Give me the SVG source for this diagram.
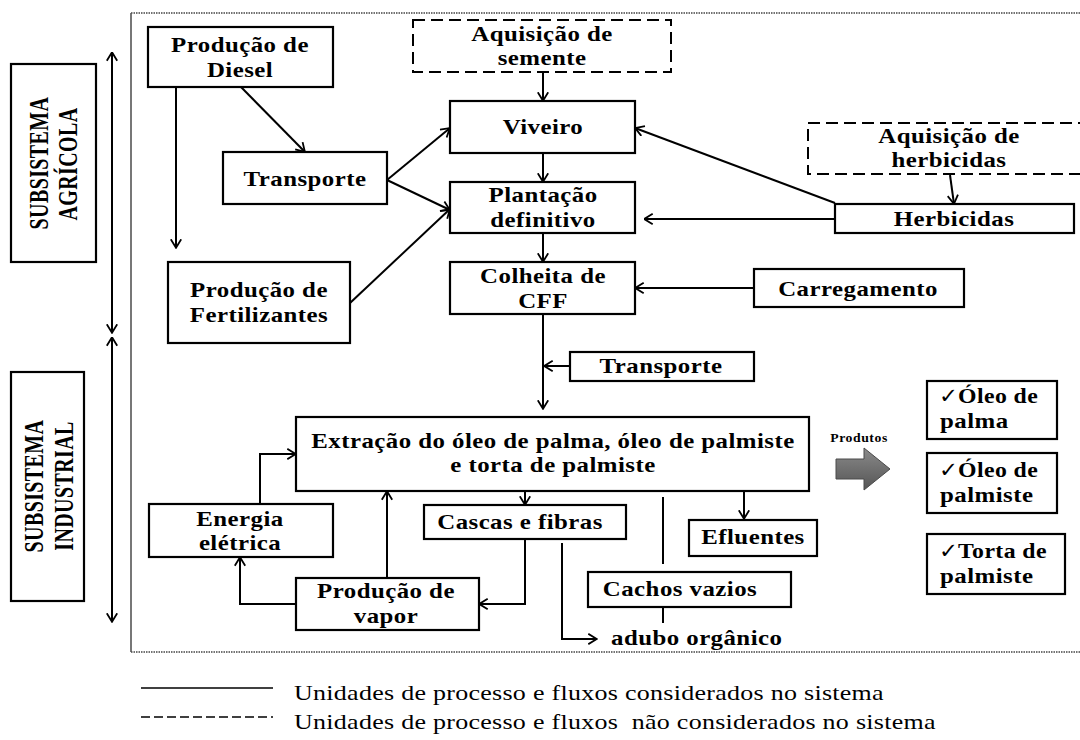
<svg xmlns="http://www.w3.org/2000/svg" width="1080" height="740" viewBox="0 0 1080 740">
<defs>
<marker id="a" viewBox="0 0 10 12" refX="9.5" refY="6" markerWidth="10" markerHeight="12" markerUnits="userSpaceOnUse" orient="auto-start-reverse">
<path d="M0.8,0.8 L9.3,6 L0.8,11.2" fill="none" stroke="#000" stroke-width="1.8"/>
</marker>
<linearGradient id="g" x1="0" y1="0" x2="0" y2="1">
<stop offset="0" stop-color="#8a8a8a"/>
<stop offset="1" stop-color="#555"/>
</linearGradient>
</defs>
<style>
.b{fill:#fff;stroke:#000;stroke-width:2.2}
.d{fill:#fff;stroke:#000;stroke-width:2;stroke-dasharray:12 6}
.t{font-family:"Liberation Serif","Times New Roman",serif;font-weight:bold;font-size:22px;letter-spacing:0.4px;fill:#000;text-anchor:middle}
.l{text-anchor:start}
.r{font-family:"Liberation Serif","Times New Roman",serif;font-weight:bold;font-size:20px;fill:#000;text-anchor:middle;letter-spacing:0.4px}
.c{fill:none;stroke:#000;stroke-width:2}
.ca{fill:none;stroke:#000;stroke-width:2;marker-end:url(#a)}
.lg{font-family:"Liberation Serif","Times New Roman",serif;font-size:22px;letter-spacing:0.25px;fill:#000;white-space:pre}
.ck{font-family:"DejaVu Sans",sans-serif;font-size:21px;font-weight:bold;letter-spacing:0}
</style>
<rect width="1080" height="740" fill="#fff"/>

<g id="frame">
<path d="M131,13 H1080 M131,652 H1080" fill="none" stroke="#444" stroke-width="1.6" stroke-dasharray="1.5 1"/>
<path d="M131,13 V652" fill="none" stroke="#555" stroke-width="1.6"/>
</g>

<g id="subsistema-agricola">
<rect class="b" x="11" y="64" width="85" height="198"/>
<text class="r" transform="translate(48,163) scale(1.4,1) rotate(-90)">SUBSISTEMA</text>
<text class="r" transform="translate(77,164) scale(1.35,1) rotate(-90)">AGRÍCOLA</text>
</g>
<g id="subsistema-industrial">
<rect class="b" x="11" y="372" width="73" height="229"/>
<text class="r" transform="translate(43,486) scale(1.4,1) rotate(-90)">SUBSISTEMA</text>
<text class="r" transform="translate(73,486) scale(1.35,1) rotate(-90)">INDUSTRIAL</text>
</g>

<g id="n-diesel"><rect class="b" x="148" y="27" width="185" height="60"/>
<text class="t" transform="translate(240,52) scale(1.13,1)">Produção de</text><text class="t" transform="translate(240,77) scale(1.13,1)">Diesel</text></g>
<g id="n-semente"><rect class="d" x="413" y="20" width="258" height="52"/>
<text class="t" transform="translate(542,41) scale(1.13,1)">Aquisição de</text><text class="t" transform="translate(542,65) scale(1.13,1)">semente</text></g>
<g id="n-viveiro"><rect class="b" x="450" y="101" width="185" height="52"/>
<text class="t" transform="translate(543,134) scale(1.13,1)">Viveiro</text></g>
<g id="n-transporte1"><rect class="b" x="223" y="152" width="164" height="52"/>
<text class="t" transform="translate(305,186) scale(1.13,1)">Transporte</text></g>
<g id="n-plantacao"><rect class="b" x="450" y="182" width="185" height="51"/>
<text class="t" transform="translate(543,202) scale(1.13,1)">Plantação</text><text class="t" transform="translate(543,227) scale(1.13,1)">definitivo</text></g>
<g id="n-colheita"><rect class="b" x="450" y="262" width="185" height="52"/>
<text class="t" transform="translate(543,283) scale(1.13,1)">Colheita de</text><text class="t" transform="translate(543,308) scale(1.13,1)">CFF</text></g>
<g id="n-fertilizantes"><rect class="b" x="168" y="262" width="182" height="81"/>
<text class="t" transform="translate(259,297) scale(1.13,1)">Produção de</text><text class="t" transform="translate(259,322) scale(1.13,1)">Fertilizantes</text></g>
<g id="n-aq-herbicidas"><rect class="d" x="808" y="123" width="300" height="51"/>
<text class="t" transform="translate(949,143) scale(1.13,1)">Aquisição de</text><text class="t" transform="translate(949,167) scale(1.13,1)">herbicidas</text></g>
<g id="n-herbicidas"><rect class="b" x="835" y="204" width="239" height="29"/>
<text class="t" transform="translate(954,226) scale(1.13,1)">Herbicidas</text></g>
<g id="n-carregamento"><rect class="b" x="754" y="269" width="210" height="38"/>
<text class="t" transform="translate(858,296) scale(1.13,1)">Carregamento</text></g>
<g id="n-transporte2"><rect class="b" x="570" y="352" width="184" height="29"/>
<text class="t" transform="translate(661,373) scale(1.13,1)">Transporte</text></g>
<g id="n-extracao"><rect class="b" x="296" y="417" width="513" height="74"/>
<text class="t" transform="translate(553,448) scale(1.13,1)">Extração do óleo de palma, óleo de palmiste</text>
<text class="t" transform="translate(553,472) scale(1.13,1)">e torta de palmiste</text></g>
<g id="n-energia"><rect class="b" x="149" y="504" width="184" height="53"/>
<text class="t" transform="translate(240,526) scale(1.13,1)">Energia</text><text class="t" transform="translate(240,550) scale(1.13,1)">elétrica</text></g>
<g id="n-cascas"><rect class="b" x="424" y="505" width="202" height="34"/>
<text class="t" transform="translate(520,529) scale(1.13,1)">Cascas e fibras</text></g>
<g id="n-vapor"><rect class="b" x="296" y="578" width="183" height="52"/>
<text class="t" transform="translate(386,598) scale(1.13,1)">Produção de</text><text class="t" transform="translate(386,623) scale(1.13,1)">vapor</text></g>
<g id="n-efluentes"><rect class="b" x="689" y="520" width="128" height="36"/>
<text class="t" transform="translate(753,544) scale(1.13,1)">Efluentes</text></g>
<g id="n-cachos"><rect class="b" x="588" y="572" width="203" height="35"/>
<text class="t" transform="translate(680,596) scale(1.13,1)">Cachos vazios</text></g>
<g id="n-adubo"><text class="t l" transform="translate(611,645) scale(1.13,1)">adubo orgânico</text></g>

<g id="produtos">
<text transform="translate(859,442) scale(1.1,1)" font-family="Liberation Serif, serif" font-weight="bold" font-size="12.5" letter-spacing="0.5" text-anchor="middle">Produtos</text>
<polygon points="836,459 864,459 864,448 890,469 864,490 864,479 836,479" fill="url(#g)" stroke="#4a4a4a" stroke-width="1"/>
</g>
<g id="n-oleo-palma"><rect class="b" x="927" y="381" width="130" height="58"/>
<text class="t l" transform="translate(939,403) scale(1.08,1)"><tspan class="ck">✓</tspan>Óleo de</text><text class="t l" transform="translate(940,428) scale(1.13,1)">palma</text></g>
<g id="n-oleo-palmiste"><rect class="b" x="927" y="453" width="130" height="60"/>
<text class="t l" transform="translate(939,477) scale(1.08,1)"><tspan class="ck">✓</tspan>Óleo de</text><text class="t l" transform="translate(940,502) scale(1.13,1)">palmiste</text></g>
<g id="n-torta"><rect class="b" x="927" y="534" width="138" height="60"/>
<text class="t l" transform="translate(939,558) scale(1.08,1)"><tspan class="ck">✓</tspan>Torta de</text><text class="t l" transform="translate(940,583) scale(1.13,1)">palmiste</text></g>

<g id="connectors">
<line class="ca" x1="112" y1="52" x2="112" y2="333" marker-start="url(#a)"/>
<line class="ca" x1="112" y1="337" x2="112" y2="622" marker-start="url(#a)"/>
<line class="ca" x1="176" y1="87" x2="176" y2="248"/>
<line class="ca" x1="241" y1="87" x2="305" y2="152"/>
<line class="ca" x1="387" y1="180" x2="450" y2="128"/>
<line class="ca" x1="387" y1="180" x2="450" y2="210"/>
<line class="ca" x1="350" y1="303" x2="450" y2="209"/>
<line class="ca" x1="543" y1="72" x2="543" y2="101"/>
<line class="ca" x1="543" y1="153" x2="543" y2="182"/>
<line class="ca" x1="543" y1="233" x2="543" y2="262"/>
<line class="ca" x1="543" y1="314" x2="543" y2="409"/>
<line class="ca" x1="570" y1="366" x2="544" y2="366"/>
<line class="ca" x1="835" y1="203" x2="635" y2="128"/>
<line class="ca" x1="835" y1="219" x2="644" y2="219"/>
<line class="ca" x1="950" y1="175" x2="954" y2="204"/>
<line class="ca" x1="754" y1="288" x2="635" y2="288"/>
<polyline class="ca" points="260,504 260,454 296,454"/>
<polyline class="ca" points="296,604 240,604 240,557"/>
<line class="ca" x1="387" y1="578" x2="387" y2="491"/>
<line class="ca" x1="525" y1="491" x2="525" y2="505"/>
<polyline class="ca" points="525,539 525,604 479,604"/>
<polyline class="ca" points="562,543 562,639 597,639"/>
<line class="ca" x1="744" y1="491" x2="744" y2="519"/>
<line class="c" x1="663" y1="497" x2="663" y2="564"/>
<line class="c" x1="663" y1="607" x2="663" y2="623"/>
</g>

<g id="legenda">
<line x1="141" y1="688" x2="273" y2="688" stroke="#000" stroke-width="1.3"/>
<line x1="141" y1="717" x2="273" y2="717" stroke="#000" stroke-width="1.3" stroke-dasharray="9 4"/>
<text class="lg" transform="translate(294,700) scale(1.18,1)">Unidades de processo e fluxos considerados no sistema</text>
<text class="lg" transform="translate(294,729) scale(1.18,1)">Unidades de processo e fluxos  não considerados no sistema</text>
</g>
</svg>
